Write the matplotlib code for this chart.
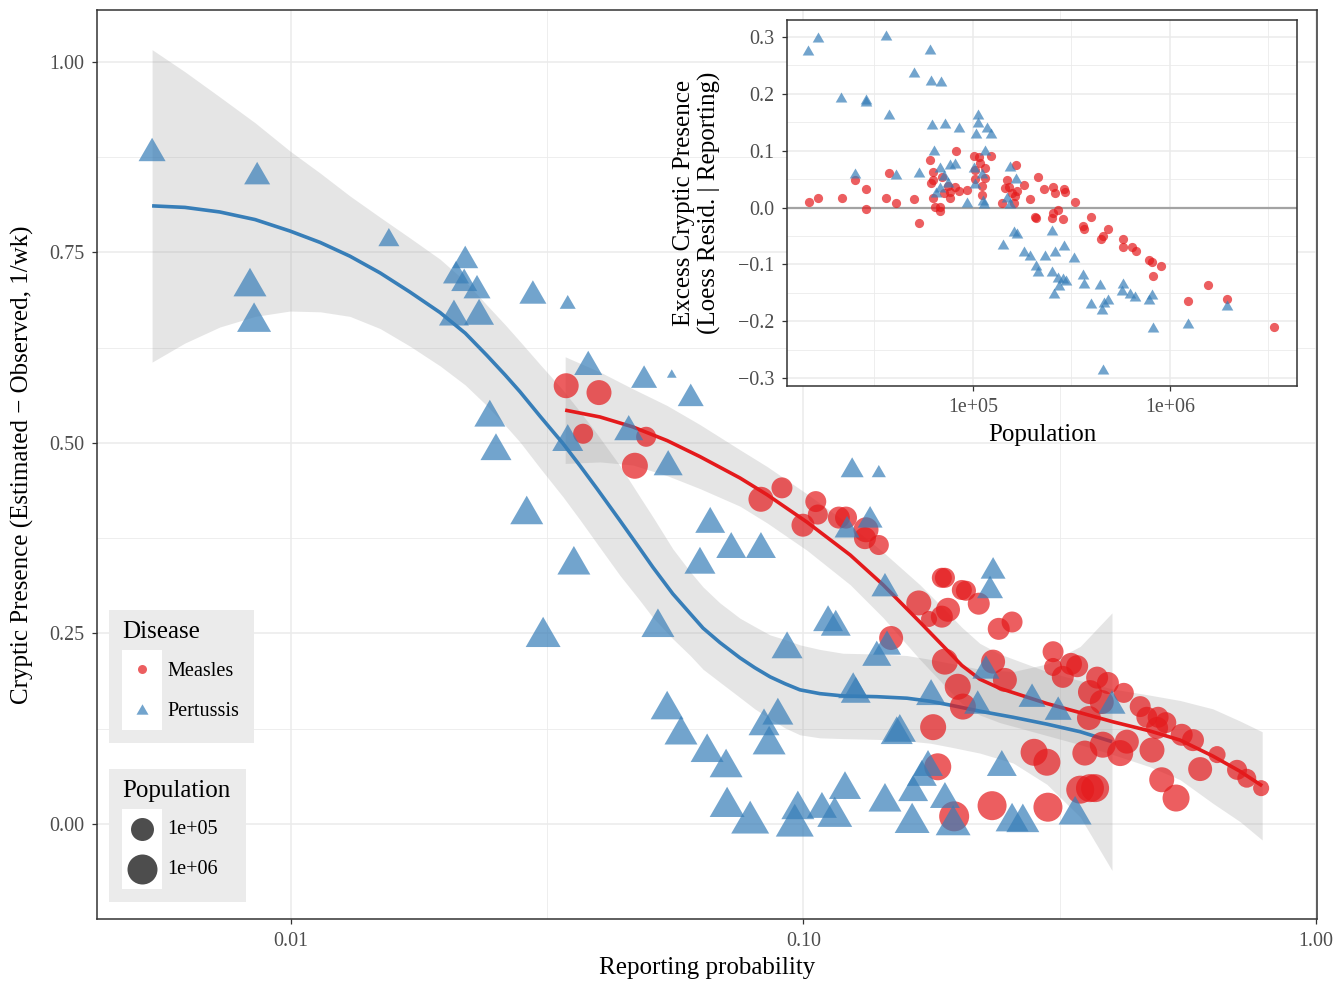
import numpy as np
import matplotlib.pyplot as plt
from matplotlib.path import Path
from matplotlib.patches import Rectangle
from matplotlib.ticker import FixedLocator, NullFormatter

plt.rcParams['font.family'] = ['Liberation Serif', 'DejaVu Serif']

RED = '#E41A1C'
BLUE = '#377EB8'

# ---- main panel: reporting probability (log10) vs cryptic presence, log10 population
pert_lrep = [-2.271, -2.066, -1.809, -1.660, -1.678, -1.662, -1.637, -1.528, -1.460, -2.080,
             -2.072, -1.682, -1.633, -1.420, -1.311, -1.257, -1.220, -1.612, -1.600, -1.460,
             -1.341, -1.264, -1.540, -1.448, -1.508, -1.284, -1.182, -1.141, -1.202, -1.083,
             -1.032, -0.952, -0.937, -0.905, -0.853, -0.870, -0.915, -0.841, -0.630, -0.636,
             -0.857, -0.837, -1.266, -1.239, -1.188, -1.151, -1.077, -1.050, -1.067, -1.149,
             -1.104, -1.011, -1.017, -0.964, -0.939, -0.919, -0.841, -0.788, -0.786, -0.769,
             -0.757, -0.724, -0.708, -0.903, -0.898, -0.812, -0.818, -0.751, -0.644, -0.660,
             -0.554, -0.503, -0.398, -0.613, -0.593, -0.572, -0.470]
pert_y = [0.885, 0.854, 0.770, 0.744, 0.724, 0.714, 0.705, 0.698, 0.685, 0.711,
          0.665, 0.671, 0.672, 0.605, 0.587, 0.591, 0.563, 0.539, 0.495, 0.507,
          0.520, 0.474, 0.412, 0.346, 0.252, 0.264, 0.399, 0.366, 0.346, 0.366,
          0.235, 0.270, 0.264, 0.468, 0.463, 0.403, 0.390, 0.314, 0.336, 0.311,
          0.224, 0.238, 0.156, 0.123, 0.100, 0.080, 0.134, 0.148, 0.110, 0.029,
          0.009, 0.025, 0.005, 0.025, 0.016, 0.051, 0.035, 0.008, 0.047, 0.067,
          0.080, 0.038, 0.005, 0.182, 0.176, 0.126, 0.123, 0.173, 0.206, 0.160,
          0.169, 0.152, 0.160, 0.080, 0.009, 0.008, 0.018]
pert_lpop = [4.69, 4.62, 4.34, 4.62, 4.62, 4.62, 4.69, 4.69, 4.16, 5.18,
             5.28, 4.91, 4.91, 4.76, 4.62, 4.08, 4.62, 5.00, 5.00, 5.00,
             4.84, 4.84, 5.18, 5.18, 5.37, 5.18, 4.91, 4.91, 5.00, 4.91,
             5.00, 4.91, 4.91, 4.44, 4.12, 4.55, 4.55, 4.69, 4.55, 4.62,
             4.84, 4.76, 5.18, 5.18, 5.18, 5.18, 5.00, 5.00, 5.18, 5.37,
             5.70, 5.18, 5.70, 4.91, 5.37, 5.09, 5.18, 5.37, 4.91, 4.91,
             4.91, 4.91, 5.37, 4.91, 4.91, 5.09, 5.09, 4.91, 4.69, 4.69,
             4.69, 4.69, 4.69, 4.91, 5.18, 5.18, 5.18]

meas_lrep = [-1.463, -1.399, -1.430, -1.307, -1.329, -1.083, -1.042, -0.976, -0.972, -1.001,
             -0.931, -0.917, -0.878, -0.880, -0.853, -0.829, -0.730, -0.724, -0.691, -0.683,
             -0.775, -0.718, -0.730, -0.755, -0.658, -0.593, -0.619, -0.724, -0.630, -0.607,
             -0.699, -0.689, -0.747, -0.738, -0.706, -0.632, -0.550, -0.525, -0.523, -0.513,
             -0.513, -0.478, -0.466, -0.494, -0.427, -0.406, -0.375, -0.441, -0.418, -0.443,
             -0.451, -0.416, -0.382, -0.369, -0.460, -0.441, -0.431, -0.343, -0.330, -0.308,
             -0.293, -0.310, -0.262, -0.240, -0.320, -0.301, -0.273, -0.226, -0.193, -0.154,
             -0.135, -0.107]
meas_y = [0.575, 0.566, 0.512, 0.508, 0.470, 0.426, 0.441, 0.423, 0.406, 0.392,
          0.402, 0.402, 0.386, 0.375, 0.366, 0.244, 0.323, 0.323, 0.307, 0.306,
          0.290, 0.281, 0.272, 0.269, 0.289, 0.265, 0.256, 0.213, 0.213, 0.189,
          0.180, 0.154, 0.127, 0.075, 0.010, 0.024, 0.094, 0.081, 0.022, 0.226,
          0.206, 0.210, 0.207, 0.193, 0.192, 0.185, 0.172, 0.173, 0.160, 0.139,
          0.093, 0.104, 0.093, 0.108, 0.045, 0.047, 0.047, 0.154, 0.140, 0.140,
          0.133, 0.126, 0.117, 0.110, 0.097, 0.058, 0.034, 0.072, 0.091, 0.071,
          0.060, 0.047]
meas_lpop = [5.25, 5.25, 4.69, 4.69, 5.39, 5.25, 4.78, 4.78, 4.69, 5.00,
             4.89, 4.89, 5.25, 4.89, 4.69, 5.12, 4.69, 4.69, 4.69, 4.69,
             5.25, 5.12, 4.89, 4.37, 4.89, 4.78, 4.89, 5.39, 5.12, 5.12,
             5.39, 5.39, 5.39, 5.53, 6.00, 5.84, 5.53, 5.53, 5.84, 4.78,
             4.51, 4.89, 4.89, 4.89, 4.89, 4.89, 4.69, 5.12, 5.12, 5.12,
             5.25, 5.39, 5.39, 5.12, 5.68, 5.68, 5.68, 4.78, 4.78, 4.78,
             4.78, 4.89, 4.89, 4.89, 5.25, 5.25, 5.53, 5.12, 4.44, 4.69,
             4.59, 4.37]

# loess fits: log10 reporting, fit, CI half width
blue_lrep = [-2.271, -2.207, -2.139, -2.070, -2.002, -1.943, -1.885, -1.826, -1.768, -1.709,
             -1.660, -1.618, -1.582, -1.553, -1.514, -1.469, -1.436, -1.403, -1.358, -1.319,
             -1.294, -1.255, -1.221, -1.196, -1.163, -1.124, -1.095, -1.065, -1.036, -1.007,
             -0.968, -0.923, -0.857, -0.798, -0.753, -0.714, -0.656, -0.591, -0.525, -0.460,
             -0.398]
blue_fit = [0.811, 0.809, 0.803, 0.793, 0.778, 0.763, 0.745, 0.723, 0.698, 0.671,
            0.644, 0.615, 0.589, 0.567, 0.535, 0.499, 0.470, 0.440, 0.398, 0.361,
            0.337, 0.302, 0.276, 0.257, 0.238, 0.218, 0.205, 0.193, 0.184, 0.176,
            0.171, 0.168, 0.167, 0.165, 0.161, 0.156, 0.148, 0.140, 0.131, 0.121,
            0.108]
blue_hw = [0.205, 0.178, 0.151, 0.127, 0.105, 0.091, 0.079, 0.073, 0.071, 0.070,
           0.068, 0.066, 0.066, 0.066, 0.068, 0.070, 0.071, 0.072, 0.072, 0.068,
           0.066, 0.059, 0.055, 0.054, 0.052, 0.052, 0.054, 0.055, 0.058, 0.059,
           0.058, 0.056, 0.056, 0.056, 0.055, 0.055, 0.055, 0.060, 0.079, 0.112,
           0.169]

red_lrep = [-1.465, -1.397, -1.333, -1.266, -1.202, -1.124, -1.071, -0.993, -0.909, -0.845,
            -0.773, -0.724, -0.691, -0.656, -0.617, -0.525, -0.460, -0.396, -0.324, -0.265,
            -0.201, -0.148, -0.105]
red_fit = [0.543, 0.534, 0.521, 0.503, 0.482, 0.454, 0.432, 0.396, 0.353, 0.314,
           0.265, 0.231, 0.208, 0.190, 0.178, 0.158, 0.146, 0.134, 0.122, 0.110,
           0.089, 0.069, 0.050]
red_hw = [0.070, 0.059, 0.050, 0.046, 0.042, 0.037, 0.037, 0.037, 0.039, 0.043,
          0.049, 0.050, 0.050, 0.047, 0.045, 0.042, 0.042, 0.043, 0.047, 0.052,
          0.062, 0.066, 0.071]

# ---- inset: log10 population vs loess residual
ins_pert_lpop = [4.213, 4.162, 4.558, 4.782, 4.330, 4.457, 4.457, 4.574, 4.701, 4.787,
                 4.838, 4.792, 4.858, 4.929, 5.025, 5.025, 5.071, 5.091, 5.015, 5.061,
                 4.802, 4.832, 4.883, 4.909, 5.005, 4.853, 4.873, 4.812, 4.832, 5.046,
                 5.010, 5.188, 5.218, 5.173, 5.188, 4.401, 4.609, 4.726, 4.970, 5.051,
                 5.056, 5.208, 5.223, 5.401, 5.152, 5.259, 5.289, 5.365, 5.416, 5.462,
                 5.513, 5.320, 5.330, 5.401, 5.431, 5.457, 5.472, 5.437, 5.411, 5.558,
                 5.563, 5.645, 5.761, 5.756, 5.797, 5.822, 5.909, 5.893, 5.599, 5.665,
                 5.685, 5.655, 5.914, 6.091, 6.289, 5.660]
ins_pert_res = [0.300, 0.277, 0.304, 0.279, 0.194, 0.191, 0.187, 0.165, 0.238, 0.224,
                0.223, 0.147, 0.149, 0.142, 0.165, 0.150, 0.142, 0.131, 0.131, 0.101,
                0.101, 0.071, 0.077, 0.078, 0.071, 0.057, 0.045, 0.027, 0.036, 0.061,
                0.043, 0.073, 0.052, 0.018, 0.008, 0.061, 0.059, 0.062, 0.010, 0.013,
                0.008, -0.041, -0.045, -0.040, -0.064, -0.077, -0.084, -0.084, -0.077, -0.066,
                -0.087, -0.101, -0.112, -0.112, -0.122, -0.124, -0.128, -0.136, -0.150, -0.117,
                -0.133, -0.135, -0.133, -0.145, -0.150, -0.156, -0.152, -0.161, -0.168, -0.166,
                -0.161, -0.179, -0.210, -0.203, -0.172, -0.284]
ins_meas_lpop = [4.168, 4.213, 4.335, 4.401, 4.457, 4.457, 4.558, 4.609, 4.574, 4.701,
                 4.726, 4.782, 4.914, 5.005, 5.030, 5.091, 5.061, 5.036, 5.010, 5.061,
                 5.010, 4.797, 4.787, 4.797, 4.843, 4.853, 4.883, 4.873, 4.909, 4.929,
                 4.970, 4.797, 4.883, 4.807, 4.832, 4.832, 5.046, 5.046, 5.173, 5.183,
                 5.162, 5.218, 5.259, 5.223, 5.213, 5.289, 5.330, 5.360, 5.147, 5.315,
                 5.198, 5.208, 5.406, 5.416, 5.462, 5.467, 5.518, 5.320, 5.401, 5.406,
                 5.431, 5.457, 5.558, 5.563, 5.599, 5.685, 5.650, 5.660, 5.761, 5.761,
                 5.807, 5.827, 5.893, 5.909, 5.954, 5.914, 6.091, 6.193, 6.289, 6.528]
ins_meas_res = [0.010, 0.017, 0.017, 0.048, 0.033, -0.003, 0.017, 0.008, 0.061, 0.015,
                -0.027, 0.084, 0.099, 0.091, 0.089, 0.091, 0.070, 0.078, 0.066, 0.052,
                0.050, 0.062, 0.043, 0.048, 0.054, 0.026, 0.027, 0.038, 0.036, 0.029,
                0.031, 0.017, 0.017, 0.001, 0.001, -0.006, 0.022, 0.038, 0.048, 0.036,
                0.034, 0.075, 0.040, 0.029, 0.020, 0.015, 0.054, 0.033, 0.008, -0.017,
                0.026, 0.008, 0.036, 0.026, 0.033, 0.027, 0.010, -0.018, -0.018, -0.010,
                -0.004, -0.020, -0.033, -0.038, -0.017, -0.038, -0.055, -0.050, -0.055, -0.070,
                -0.070, -0.077, -0.092, -0.096, -0.103, -0.121, -0.165, -0.136, -0.161, -0.210]

size_breaks = [1e5, 1e6]
size_labels = ['1e+05', '1e+06']
diseases = ['Measles', 'Pertussis']


def diam_px(lpop):
    # ggplot-like area scale on log10 population
    t = np.clip((np.asarray(lpop, dtype=float) - 4.08) / 2.5, 0, 1)
    return 7.2 + 26 * np.sqrt(t)


def s_pts(d):
    return (np.asarray(d) * 0.72) ** 2


tri = Path([(0, 0.866), (-1, -0.866), (1, -0.866), (0, 0.866)],
           [Path.MOVETO, Path.LINETO, Path.LINETO, Path.CLOSEPOLY])

fig = plt.figure(figsize=(13.44, 9.83), dpi=100)

# ---------------- main panel
ax = fig.add_axes([97 / 1344, 1 - 919 / 983, 1220 / 1344, 909 / 983])
ax.set_xscale('log')

bx = 10 ** np.array(blue_lrep)
rx = 10 ** np.array(red_lrep)
ax.fill_between(bx, np.array(blue_fit) - blue_hw, np.array(blue_fit) + blue_hw,
                color='#999999', alpha=0.25, lw=0, zorder=1)
ax.fill_between(rx, np.array(red_fit) - red_hw, np.array(red_fit) + red_hw,
                color='#999999', alpha=0.25, lw=0, zorder=1)
ax.plot(bx, blue_fit, color=BLUE, lw=2.6, zorder=2, solid_capstyle='butt',
        solid_joinstyle='round')
ax.plot(rx, red_fit, color=RED, lw=2.6, zorder=2, solid_capstyle='butt',
        solid_joinstyle='round')

ax.scatter(10 ** np.array(meas_lrep), meas_y, s=s_pts(diam_px(meas_lpop)),
           color=RED, alpha=0.7, lw=0, marker='o', zorder=3)
ax.scatter(10 ** np.array(pert_lrep), pert_y, s=s_pts(1.35 * diam_px(pert_lpop)),
           color=BLUE, alpha=0.7, lw=0, marker=tri, zorder=3)

ax.set_xlim(10 ** -2.3785, 10 ** 0.002)
ax.set_ylim(-0.1247, 1.068)
ax.set_xticks([0.01, 0.1, 1.0])
ax.set_xticklabels(['0.01', '0.10', '1.00'])
ax.xaxis.set_minor_locator(FixedLocator([10 ** -1.5, 10 ** -0.5]))
ax.xaxis.set_minor_formatter(NullFormatter())
ax.set_yticks([0, 0.25, 0.5, 0.75, 1.0])
ax.set_yticklabels(['0.00', '0.25', '0.50', '0.75', '1.00'])
ax.yaxis.set_minor_locator(FixedLocator([0.125, 0.375, 0.625, 0.875]))
ax.grid(which='major', color='#EBEBEB', lw=1.1, zorder=0)
ax.grid(which='minor', color='#EBEBEB', lw=0.6, zorder=0)
ax.set_axisbelow(True)
ax.tick_params(which='major', direction='out', length=3.5, width=0.9, color='#333333',
               labelcolor='#4D4D4D', labelsize=14.4, pad=5.5)
ax.tick_params(which='minor', length=0)
for sp in ax.spines.values():
    sp.set_color('#333333')
    sp.set_linewidth(1.1)
ax.set_xlabel('Reporting probability', fontsize=18, labelpad=5)
ax.set_ylabel('Cryptic Presence (Estimated \u2212 Observed, 1/wk)', fontsize=18, labelpad=11)

# ---------------- inset
axi = fig.add_axes([787 / 1344, 1 - 386 / 983, 510 / 1344, 366 / 983], zorder=5)
axi.set_facecolor('white')
axi.set_xscale('log')
axi.axhline(0, color='#A3A3A3', lw=1.6, zorder=1)
axi.scatter(10 ** np.array(ins_meas_lpop), ins_meas_res, s=44, color=RED, alpha=0.7,
            lw=0, marker='o', zorder=3)
axi.scatter(10 ** np.array(ins_pert_lpop), ins_pert_res, s=70, color=BLUE, alpha=0.7,
            lw=0, marker=tri, zorder=3)
axi.set_xlim(10 ** 4.056, 10 ** 6.645)
axi.set_ylim(-0.314, 0.330)
axi.set_xticks([1e5, 1e6])
axi.set_xticklabels(size_labels)
axi.xaxis.set_minor_locator(FixedLocator([10 ** 4.5, 10 ** 5.5, 10 ** 6.5]))
axi.xaxis.set_minor_formatter(NullFormatter())
yt = [-0.3, -0.2, -0.1, 0.0, 0.1, 0.2, 0.3]
axi.set_yticks(yt)
axi.set_yticklabels(['\u22120.3', '\u22120.2', '\u22120.1', '0.0', '0.1', '0.2', '0.3'])
axi.yaxis.set_minor_locator(FixedLocator([-0.25, -0.15, -0.05, 0.05, 0.15, 0.25]))
axi.grid(which='major', color='#EBEBEB', lw=1.1, zorder=0)
axi.grid(which='minor', color='#EBEBEB', lw=0.6, zorder=0)
axi.set_axisbelow(True)
axi.tick_params(which='major', direction='out', length=3.5, width=0.9, color='#333333',
                labelcolor='#4D4D4D', labelsize=14.4, pad=5.5)
axi.tick_params(which='minor', length=0)
for sp in axi.spines.values():
    sp.set_color('#333333')
    sp.set_linewidth(1.1)
axi.set_xlabel('Population', fontsize=18, labelpad=5)
axi.set_ylabel('Excess Cryptic Presence\n(Loess Resid. | Reporting)', fontsize=18,
               labelpad=12, linespacing=1.2)

# ---------------- legends (drawn in pixel space)
lax = fig.add_axes([0, 0, 1, 1], zorder=10)
lax.set_xlim(0, 1344)
lax.set_ylim(983, 0)
lax.axis('off')

lax.add_patch(Rectangle((109, 610), 145, 133, color='#EBEBEB', lw=0))
lax.add_patch(Rectangle((122, 650), 40, 80, color='white', lw=0))
lax.text(122, 632, 'Disease', fontsize=18, va='center', ha='left')
lax.scatter([142], [669], s=s_pts(9), color=RED, alpha=0.7, lw=0, marker='o')
lax.scatter([142], [709], s=s_pts(12), color=BLUE, alpha=0.7, lw=0, marker=tri)
for i, name in enumerate(diseases):
    lax.text(167, 671 + 40 * i, name, fontsize=14.6, va='center', ha='left')

lax.add_patch(Rectangle((109, 769), 137, 133, color='#EBEBEB', lw=0))
lax.add_patch(Rectangle((122, 809), 40, 80, color='white', lw=0))
lax.text(122, 791, 'Population', fontsize=18, va='center', ha='left')
for i, (b, lab) in enumerate(zip(size_breaks, size_labels)):
    lax.scatter([142], [829 + 40 * i], s=s_pts(diam_px(np.log10(b))), color='#4D4D4D',
                lw=0, marker='o')
    lax.text(167, 830 + 40 * i, lab, fontsize=14.6, va='center', ha='left')

fig.savefig('out.png', dpi=100)
